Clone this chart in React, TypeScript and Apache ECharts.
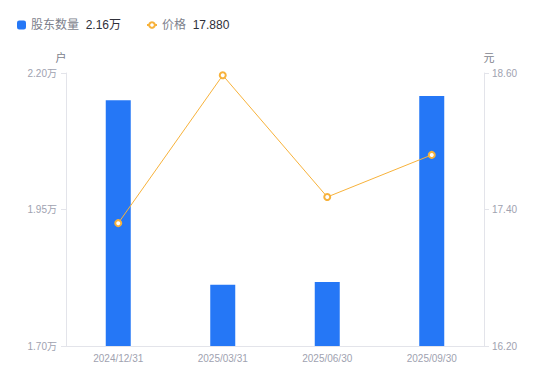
import React, { useEffect, useRef } from "react";
import * as echarts from "echarts";

const categories = ["2024/12/31", "2025/03/31", "2025/06/30", "2025/09/30"];
const holders = [21500, 18120, 18170, 21580];
const prices = [17.28, 18.58, 17.51, 17.88];
const legendValues: Record<string, string> = { 股东数量: "2.16万", 价格: "17.880" };

export default function App() {
  const ref = useRef<HTMLDivElement>(null);
  useEffect(() => {
    const chart = echarts.init(ref.current!, undefined, { renderer: "svg" });
    const axisLabelColor = "#a0a2b0";
    const lineColor = "#e3e4ea";
    const font = "'Liberation Sans', Arial, 'Noto Sans CJK SC', sans-serif";
    const legendText = {
      rich: {
        n: { fontSize: 12, color: "#7d7f8c", fontFamily: font },
        v: { fontSize: 12, color: "#2f3039", fontFamily: font },
      },
    };
    const legendFormatter = (name: string) => `{n|${name}}  {v|${legendValues[name]}}`;
    chart.setOption({
      animation: false,
      textStyle: { fontFamily: font },
      legend: [
        {
          left: 12,
          top: 14,
          itemWidth: 9,
          itemHeight: 9,
          formatter: legendFormatter,
          textStyle: legendText,
          data: [{ name: "股东数量", icon: "roundRect", itemStyle: { color: "#2577f6" } }],
        },
        {
          left: 141,
          top: 14,
          itemWidth: 10,
          itemHeight: 7,
          formatter: legendFormatter,
          textStyle: legendText,
          data: [{ name: "价格" }],
        },
      ],
      grid: { left: 66, right: 66, top: 73, bottom: 35 },
      xAxis: {
        type: "category",
        data: categories,
        axisLine: { lineStyle: { color: lineColor } },
        axisTick: { show: false },
        axisLabel: { color: axisLabelColor, fontSize: 10, margin: 7 },
      },
      yAxis: [
        {
          type: "value",
          name: "户",
          nameGap: 10,
          nameTextStyle: { color: "#7d7f8c", fontSize: 11, padding: [0, 10, 0, 0] },
          min: 17000,
          max: 22000,
          interval: 2500,
          axisLine: { show: true, lineStyle: { color: lineColor } },
          axisTick: { show: true, length: 5, lineStyle: { color: lineColor } },
          splitLine: { show: false },
          axisLabel: {
            color: axisLabelColor,
            fontSize: 10,
            margin: 9,
            formatter: (v: number) => (v / 10000).toFixed(2) + "万",
          },
        },
        {
          type: "value",
          name: "元",
          nameGap: 10,
          nameTextStyle: { color: "#7d7f8c", fontSize: 11, padding: [0, 0, 0, 10] },
          min: 16.2,
          max: 18.6,
          interval: 1.2,
          axisLine: { show: true, lineStyle: { color: lineColor } },
          axisTick: { show: true, length: 5, lineStyle: { color: lineColor } },
          splitLine: { show: false },
          axisLabel: {
            color: axisLabelColor,
            fontSize: 10,
            margin: 8,
            formatter: (v: number) => v.toFixed(2),
          },
        },
      ],
      series: [
        {
          name: "股东数量",
          type: "bar",
          data: holders,
          barWidth: 25,
          itemStyle: { color: "#2577f6" },
          yAxisIndex: 0,
        },
        {
          name: "价格",
          type: "line",
          data: prices,
          yAxisIndex: 1,
          symbol: "circle",
          symbolSize: 6,
          lineStyle: { color: "#f7b23b", width: 1 },
          itemStyle: { color: "#ffffff", borderColor: "#f7b23b", borderWidth: 2 },
        },
      ],
    });
    return () => chart.dispose();
  }, []);
  return (
    <div
      ref={ref}
      style={{ position: "absolute", left: 0, top: 0, width: 550, height: 381 }}
    />
  );
}
